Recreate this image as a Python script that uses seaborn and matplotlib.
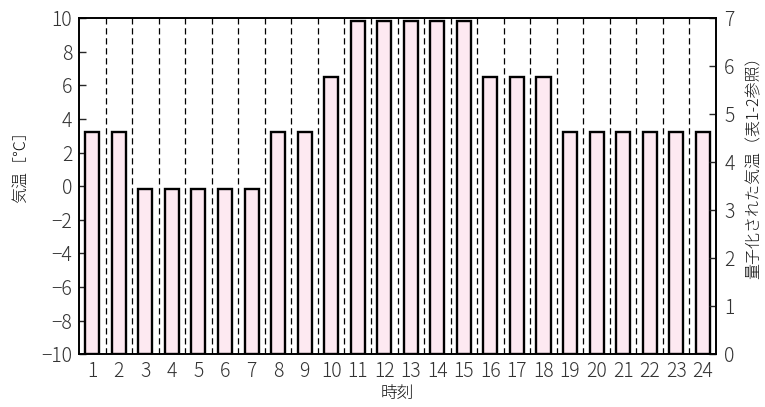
import numpy as np
import pandas as pd
import matplotlib
matplotlib.use("Agg")
import matplotlib.pyplot as plt
import seaborn as sns

# hourly temperature (quantized)
hours = list(range(1, 25))
temps = [3.2, 3.2, -0.15, -0.15, -0.15, -0.15, -0.15, 3.2, 3.2, 6.5,
         9.85, 9.85, 9.85, 9.85, 9.85, 6.5, 6.5, 6.5, 3.2, 3.2, 3.2, 3.2, 3.2, 3.2]
left_ticks = list(range(-10, 11, 2))
right_ticks = list(range(0, 8))
base = -10

sns.set_style("white")
plt.rcParams['font.family'] = ['Noto Sans CJK JP', 'DejaVu Sans']
plt.rcParams['font.weight'] = 'light'
plt.rcParams['axes.labelweight'] = 'light'
plt.rcParams['axes.unicode_minus'] = True

df = pd.DataFrame({'hour': hours, 'temp': temps})
# bars start at the bottom of the axis, so height is measured from there
df['height'] = df['temp'] - base

fig = plt.figure(figsize=(7.65, 4.07), dpi=100)
ax = fig.add_axes([0.1033, 0.130, 0.8327, 0.825])

sns.barplot(data=df, x='hour', y='height', bottom=base, width=0.53,
            color='#fde9f1', saturation=1, edgecolor='black', linewidth=1.7,
            ax=ax, zorder=3)

for i in range(len(hours) - 1):
    ax.axvline(i + 0.5, color='black', linestyle=(0, (5, 3)), linewidth=0.9, zorder=1)

ax.set_xlim(-0.5, len(hours) - 0.5)
ax.set_ylim(-10, 10)
ax.set_yticks(left_ticks)
ax.set_ylabel('気温［℃］', fontsize=11.5, color='#111111', fontweight='light')
ax.yaxis.set_label_coords(-0.079, 0.568)
ax.set_xlabel('時刻', fontsize=12, color='#111111', labelpad=2, fontweight='light')
ax.tick_params(axis='y', direction='in', length=5, width=1, labelsize=14,
               labelcolor='#333333', pad=5)
ax.tick_params(axis='x', length=0, labelsize=14, labelcolor='#333333', pad=5)
for s in ax.spines.values():
    s.set_linewidth(1.2)
    s.set_color('black')

ax2 = ax.twinx()
ax2.set_ylim(0, 7)
ax2.set_yticks(right_ticks)
ax2.tick_params(axis='y', direction='in', length=5, width=1, labelsize=14,
                labelcolor='#333333', pad=6)
ax2.set_ylabel('量子化された気温（表1-2参照）', fontsize=11.5, color='#111111',
               fontweight='light')
ax2.yaxis.set_label_coords(1.047, 0.568)
for s in ax2.spines.values():
    s.set_linewidth(1.2)
    s.set_color('black')

fig.savefig('out.png', dpi=100)
